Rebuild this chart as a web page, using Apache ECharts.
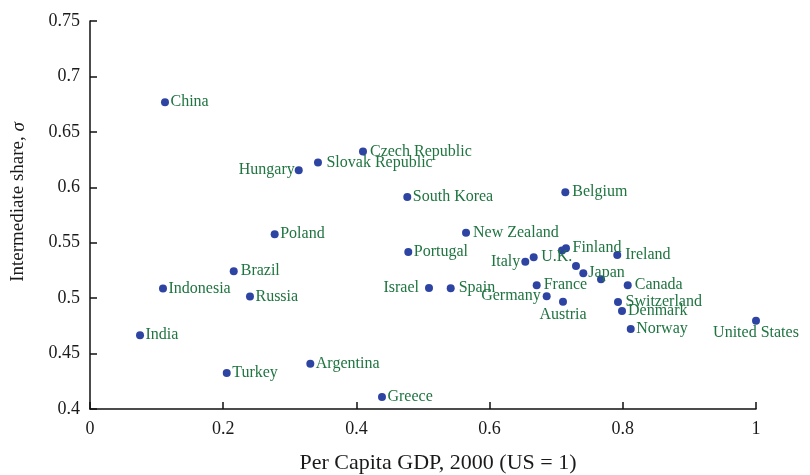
<!DOCTYPE html>
<html>
<head>
<meta charset="utf-8">
<script src="https://cdn.jsdelivr.net/npm/echarts@6/dist/echarts.min.js"></script>
<style>html,body{margin:0;padding:0;background:#fff}#c{width:810px;height:475px}</style>
</head>
<body>
<div id="c"></div>
<script>
const countries = ["China","Czech Republic","Slovak Republic","Hungary","South Korea","Belgium","Poland","New Zealand","Portugal","Finland","","Ireland","U.K.","Italy","","Japan","","Brazil","Indonesia","Israel","Spain","France","Canada","Russia","Germany","Austria","Switzerland","Denmark","Norway","United States","India","Argentina","Turkey","Greece"];
const gdp = [0.1126,0.4099,0.3423,0.3134,0.4764,0.7137,0.2773,0.5646,0.4779,0.7147,0.7087,0.7917,0.6662,0.6536,0.7297,0.7407,0.7673,0.2158,0.1096,0.5090,0.5416,0.6707,0.8074,0.2402,0.6857,0.7102,0.7928,0.7988,0.8119,1.0,0.0751,0.3308,0.2053,0.4384];
const share = [0.6768,0.6322,0.6223,0.6154,0.5913,0.5956,0.5577,0.5591,0.5417,0.5450,0.5429,0.5390,0.5369,0.5329,0.5291,0.5225,0.5171,0.5243,0.5086,0.5092,0.5089,0.5116,0.5116,0.5014,0.5017,0.4968,0.4966,0.4884,0.4722,0.4797,0.4665,0.4409,0.4325,0.4108];
const xTicks = [0, 0.2, 0.4, 0.6, 0.8, 1];
const yTicks = [0.4, 0.45, 0.5, 0.55, 0.6, 0.65, 0.7, 0.75];

// label placement styling (not data)
const labelStyle = {
  "Hungary": {position: "left", distance: 0},
  "Italy": {position: "left", distance: 1},
  "Israel": {position: "left", distance: 6},
  "Germany": {position: "left", distance: 2, offset: [0, 3]},
  "Austria": {position: "bottom", distance: 1},
  "United States": {position: "bottom", distance: 0, offset: [12, 0]},
  "U.K.": {distance: 3.5, offset: [0, 4]},
  "Finland": {distance: 2.5, offset: [0, -5]},
  "Japan": {distance: 1, offset: [0, -6]},
  "Switzerland": {distance: 3.5, offset: [0, -3]},
  "Denmark": {distance: 2, offset: [0, 2]},
  "Slovak Republic": {distance: 4.5, offset: [0, 3]},
  "Spain": {distance: 4},
  "Ireland": {distance: 4},
  "Canada": {distance: 3, offset: [0, 1]},
  "Czech Republic": {distance: 3, offset: [0, -1]},
  "France": {distance: 3},
  "Belgium": {distance: 3},
  "New Zealand": {distance: 3},
  "Brazil": {distance: 3}
};

const FONT = "Liberation Serif";
const data = countries.map((n, i) => {
  const item = {name: n, value: [gdp[i], share[i]]};
  const s = labelStyle[n];
  if (s) item.label = Object.assign({}, s);
  return item;
});

const chart = echarts.init(document.getElementById('c'), null, {renderer: 'canvas'});
chart.setOption({
  animation: false,
  backgroundColor: '#ffffff',
  grid: {left: 90, right: 54, top: 21, bottom: 66, containLabel: false, outerBoundsMode: 'none'},
  xAxis: {
    type: 'value', min: xTicks[0], max: xTicks[xTicks.length - 1], interval: 0.2,
    name: 'Per Capita GDP, 2000 (US = 1)', nameLocation: 'middle', nameGap: 43,
    nameTextStyle: {fontFamily: FONT, fontSize: 22, color: '#1a1a1a', padding: [0, 0, 0, 30]},
    axisLine: {show: true, onZero: false, lineStyle: {color: '#111', width: 1.5}},
    axisTick: {show: true, inside: true, length: 7, lineStyle: {color: '#111', width: 1.5}},
    axisLabel: {fontFamily: FONT, fontSize: 18, color: '#1a1a1a', margin: 11,
      formatter: v => String(parseFloat(v.toFixed(2)))},
    splitLine: {show: false}
  },
  yAxis: {
    type: 'value', min: yTicks[0], max: yTicks[yTicks.length - 1], interval: 0.05,
    name: 'Intermediate share, {i|σ}', nameLocation: 'middle', nameGap: 62, nameRotate: 90,
    nameTextStyle: {fontFamily: FONT, fontSize: 19, color: '#1a1a1a', padding: [0, 0, 0, 26],
      rich: {i: {fontFamily: FONT, fontSize: 19, fontStyle: 'italic', color: '#1a1a1a'}}},
    axisLine: {show: true, onZero: false, lineStyle: {color: '#111', width: 1.5}},
    axisTick: {show: true, inside: true, length: 7, lineStyle: {color: '#111', width: 1.5}},
    axisLabel: {fontFamily: FONT, fontSize: 18, color: '#1a1a1a', margin: 10,
      formatter: v => String(parseFloat(v.toFixed(2)))},
    splitLine: {show: false}
  },
  series: [{
    type: 'scatter',
    symbol: 'circle',
    symbolSize: 8,
    itemStyle: {color: '#2e44a2', opacity: 1},
    label: {
      show: true, position: 'right', distance: 1.5,
      formatter: p => p.name,
      fontFamily: FONT, fontSize: 16, color: '#1f7440', opacity: 1
    },
    labelLayout: {hideOverlap: false},
    data: data
  }]
});
</script>
</body>
</html>
